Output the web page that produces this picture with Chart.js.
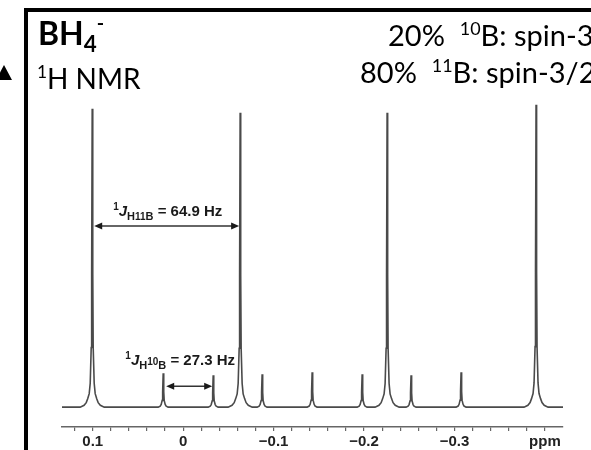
<!DOCTYPE html>
<html>
<head>
<meta charset="utf-8">
<script src="https://cdn.jsdelivr.net/npm/chart.js@4.4.1/dist/chart.umd.min.js"></script>
<style>
  html, body { margin: 0; padding: 0; }
  body { width: 591px; height: 450px; overflow: hidden; position: relative; background: #fff; }
  #frame { position: absolute; left: 24px; top: 8px; width: 800px; height: 700px; border: 4px solid #000; box-sizing: border-box; }
  #tri { position: absolute; left: -4px; top: 65px; width: 0; height: 0;
         border-left: 8px solid transparent; border-right: 8px solid transparent; border-bottom: 15px solid #000; }
  .t { position: absolute; font-family: Lato, "Open Sans", sans-serif; color: #000; line-height: 1; white-space: nowrap; z-index: 2; }
  .sup { font-size: 0.62em; position: relative; top: -0.62em; }
  .sub { font-size: 0.7em; position: relative; top: 0.3em; }
  #title { left: 38px; top: 17px; font-size: 32px; font-weight: bold; }
  #nmr { left: 37px; top: 64px; font-size: 28px; }
  #iso10 { left: 388px; top: 20px; font-size: 29px; }
  #iso11 { left: 360px; top: 57px; font-size: 29px; }
  canvas { position: absolute; left: 0; top: 0; z-index: 1; }
</style>
</head>
<body>
<div id="frame"></div>
<div id="tri"></div>
<div class="t" id="title">BH<span class="sub">4</span><span class="sup" style="top:-0.75em">-</span></div>
<div class="t" id="nmr"><span class="sup">1</span>H NMR</div>
<div class="t" id="iso10">20%&nbsp; <span class="sup">10</span>B: spin-3</div>
<div class="t" id="iso11">80%&nbsp; <span class="sup">11</span>B: spin-3/2</div>
<canvas id="spectrum" width="591" height="450"></canvas>

<script>
// --- Data (ppm, intensity a.u.) ---
const peaks11B = [0.1006, -0.0630, -0.2255, -0.3902];
const height11B = [300, 296, 296, 304];
const peaks10B = [0.0221, -0.0332, -0.0873, -0.1426, -0.1979, -0.2520, -0.3073];
const height10B = [34, 32, 33, 35, 33, 32, 35];

// line shape (offset from centre in ppm, fraction of height)
const broadOffsets = [0, 0.0006, 0.0011, 0.0022, 0.0033, 0.005, 0.0066, 0.009, 0.0133];
const broadFrac = [1, 0.45, 0.2, 0.08, 0.045, 0.028, 0.015, 0.006, 0];
const narrowOffsets = [0, 0.0006, 0.0011, 0.0022, 0.0033, 0.0055];
const narrowFrac = [1, 0.45, 0.2, 0.08, 0.03, 0];

// axis
const ppmMin = -0.42;
const ppmMax = 0.134;
const tickValues = [0.12, 0.10, 0.08, 0.06, 0.04, 0.02, 0, -0.02, -0.04, -0.06, -0.08, -0.10,
  -0.12, -0.14, -0.16, -0.18, -0.20, -0.22, -0.24, -0.26, -0.28, -0.30, -0.32, -0.34, -0.36, -0.38, -0.40];
const majorTicks = [0.1, 0, -0.1, -0.2, -0.3, -0.4];
const majorLabels = ['0.1', '0', '\u22120.1', '\u22120.2', '\u22120.3', 'ppm'];

// coupling annotations
const jSub = [['H', '11', 'B'], ['H', '10', 'B']];
const jValue = [' = 64.9 Hz', ' = 27.3 Hz'];
const jLabelPpm = [0.0171, 0.0033];
const jLabelY = [197, 47];
const jArrowY = [182, 21];

// --- Build the trace ---
function peakPoints(centres, heights, offsets, fracs) {
  const pts = [];
  centres.forEach((c, i) => {
    offsets.forEach((o, k) => {
      pts.push({ x: c - o, y: heights[i] * fracs[k] });
      if (o !== 0) pts.push({ x: c + o, y: heights[i] * fracs[k] });
    });
  });
  return pts;
}

let trace = [{ x: ppmMin, y: 0 }, { x: ppmMax, y: 0 }];
trace = trace.concat(peakPoints(peaks11B, height11B, broadOffsets, broadFrac));
trace = trace.concat(peakPoints(peaks10B, height10B, narrowOffsets, narrowFrac));
trace.sort((a, b) => b.x - a.x);

// --- Arrow + label plugin ---
function arrowHead(ctx, x, y, dir) {
  ctx.beginPath();
  ctx.moveTo(x, y);
  ctx.lineTo(x + dir * 8, y - 3.5);
  ctx.lineTo(x + dir * 8, y + 3.5);
  ctx.closePath();
  ctx.fill();
}

function drawJLabel(ctx, cx, cy, sub, value) {
  const bold = '"Liberation Sans", Arial, sans-serif';
  const parts = [
    { t: '1', f: 'bold 10px ' + bold, dy: -6 },
    { t: 'J', f: 'italic bold 15px ' + bold, dy: 0 },
    { t: sub[0], f: 'bold 11px ' + bold, dy: 4 },
    { t: sub[1], f: 'bold 10px ' + bold, dy: sub[1] === '10' ? 0 : 4 },
    { t: sub[2], f: 'bold 11px ' + bold, dy: 4 },
    { t: value, f: 'bold 15px ' + bold, dy: 0 }
  ];
  let w = 0;
  parts.forEach(p => { ctx.font = p.f; p.w = ctx.measureText(p.t).width; w += p.w; });
  let x = cx - w / 2;
  ctx.textBaseline = 'alphabetic';
  ctx.textAlign = 'left';
  parts.forEach(p => {
    ctx.font = p.f;
    ctx.fillText(p.t, x, cy + 5 + p.dy);
    x += p.w;
  });
}

const couplingPlugin = {
  id: 'coupling',
  afterDatasetsDraw(chart) {
    const { ctx, scales: { x, y } } = chart;
    ctx.save();
    ctx.fillStyle = '#1a1a1a';
    ctx.strokeStyle = '#333';
    ctx.lineWidth = 1.5;
    const spans = [[peaks11B[0], peaks11B[1], 2, 1], [peaks10B[0], peaks10B[1], 3, 1]];
    spans.forEach((s, i) => {
      const x1 = x.getPixelForValue(s[0]) + s[2];
      const x2 = x.getPixelForValue(s[1]) - s[3];
      const ya = y.getPixelForValue(jArrowY[i]);
      ctx.beginPath();
      ctx.moveTo(x1 + 6, ya);
      ctx.lineTo(x2 - 6, ya);
      ctx.stroke();
      arrowHead(ctx, x1, ya, 1);
      arrowHead(ctx, x2, ya, -1);
      drawJLabel(ctx, x.getPixelForValue(jLabelPpm[i]), y.getPixelForValue(jLabelY[i]), jSub[i], jValue[i]);
    });
    ctx.restore();
  }
};

// --- Chart ---
new Chart(document.getElementById('spectrum'), {
  type: 'line',
  data: {
    datasets: [{
      data: trace,
      borderColor: '#4a4a4a',
      borderWidth: 1.6,
      pointRadius: 0,
      tension: 0,
      fill: false
    }]
  },
  options: {
    responsive: false,
    animation: false,
    devicePixelRatio: 1,
    layout: { padding: { left: 62, right: 28, top: 60, bottom: -3 } },
    plugins: { legend: { display: false }, tooltip: { enabled: false } },
    scales: {
      x: {
        type: 'linear',
        reverse: true,
        min: ppmMin,
        max: ppmMax,
        afterBuildTicks: axis => { axis.ticks = tickValues.map(v => ({ value: v })); },
        ticks: {
          autoSkip: false,
          maxRotation: 0,
          padding: 2,
          color: '#222',
          font: { family: '"Liberation Sans", Arial, sans-serif', weight: 'bold', size: 15 },
          callback: value => {
            const i = majorTicks.findIndex(m => Math.abs(m - value) < 1e-6);
            return i >= 0 ? majorLabels[i] : '';
          }
        },
        grid: { drawOnChartArea: false, tickLength: 4, color: '#666', lineWidth: 1.2 },
        border: { display: true, color: '#666', width: 1.5 }
      },
      y: { display: false, min: -20, max: 349 }
    }
  },
  plugins: [couplingPlugin]
});
</script>
</body>
</html>
